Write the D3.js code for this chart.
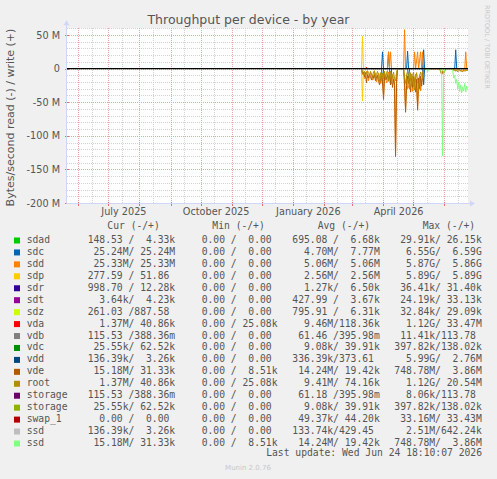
<!DOCTYPE html>
<html>
<head>
<meta charset="utf-8">
<script src="https://cdn.jsdelivr.net/npm/d3@7"></script>
<style>
  body { margin: 0; background: #F0F0F0; }
  svg { display: block; font-family: "DejaVu Sans", sans-serif; }
  .mono { font-family: "DejaVu Sans Mono", monospace; white-space: pre; }
</style>
</head>
<body>
<svg id="chart" width="497" height="479"></svg>
<script>
// legend
const names = ["sdad", "sdc", "sdd", "sdp", "sdr", "sdt", "sdz", "vda", "vdb", "vdc",
  "vdd", "vde", "root", "storage", "storage", "swap_1", "ssd", "ssd"];
const colors = ["#00CC00", "#0066B3", "#FF8000", "#FFCC00", "#330099", "#990099", "#CCFF00",
  "#FF0000", "#808080", "#008F00", "#00487D", "#B35A00", "#B38F00", "#6B006B", "#8FB300",
  "#B30000", "#BEBEBE", "#80FF80"];
const curText = ["148.53 /  4.33k", " 25.24M/ 25.24M", " 25.33M/ 25.33M", "277.59 / 51.86 ",
  "998.70 / 12.28k", "  3.64k/  4.23k", "261.03 /887.58 ", "  1.37M/ 40.86k", "115.53 /388.36m",
  " 25.55k/ 62.52k", "136.39k/  3.26k", " 15.18M/ 31.33k", "  1.37M/ 40.86k", "115.53 /388.36m",
  " 25.55k/ 62.52k", "  0.00 /  0.00 ", "136.39k/  3.26k", " 15.18M/ 31.33k"];
const minText = ["  0.00 /  0.00 ", "  0.00 /  0.00 ", "  0.00 /  0.00 ", "  0.00 /  0.00 ",
  "  0.00 /  0.00 ", "  0.00 /  0.00 ", "  0.00 /  0.00 ", "  0.00 / 25.08k", "  0.00 /  0.00 ",
  "  0.00 /  0.00 ", "  0.00 /  0.00 ", "  0.00 /  8.51k", "  0.00 / 25.08k", "  0.00 /  0.00 ",
  "  0.00 /  0.00 ", "  0.00 /  0.00 ", "  0.00 /  0.00 ", "  0.00 /  8.51k"];
const avgText = ["695.08 /  6.68k", "  4.70M/  7.77M", "  5.06M/  5.06M", "  2.56M/  2.56M",
  "  1.27k/  6.50k", "427.99 /  3.67k", "795.91 /  6.31k", "  9.46M/118.36k", " 61.46 /395.98m",
  "  9.08k/ 39.91k", "336.39k/373.61 ", " 14.24M/ 19.42k", "  9.41M/ 74.16k", " 61.18 /395.98m",
  "  9.08k/ 39.91k", " 49.37k/ 44.20k", "133.74k/429.45 ", " 14.24M/ 19.42k"];
const maxText = [" 29.91k/ 26.15k", "  6.55G/  6.59G", "  5.87G/  5.86G", "  5.89G/  5.89G",
  " 36.41k/ 31.40k", " 24.19k/ 33.13k", " 32.84k/ 29.09k", "  1.12G/ 33.47M", " 11.41k/113.78 ",
  "397.82k/138.02k", "  5.99G/  2.76M", "748.78M/  3.86M", "  1.12G/ 20.54M", "  8.06k/113.78 ",
  "397.82k/138.02k", " 33.16M/ 33.43M", "  2.51M/642.24k", "748.78M/  3.86M"];
const colHeads = ["Cur (-/+)", "Min (-/+)", "Avg (-/+)", "Max (-/+)"];

// axis labels
const yTicks = [50, 0, -50, -100, -150, -200];
const xLabelDays = ["2025-07-16", "2025-10-16", "2026-01-16", "2026-04-16"];
const xLabels = ["July 2025", "October 2025", "January 2026", "April 2026"];

// traces, MB/s per day (read is drawn negative)
const sdcWrite = [["03-10", 0], ["03-30", 0], ["03-31", 25], ["04-01", 0], ["04-05", 0], ["04-06", 25],
  ["04-07", 0], ["04-24", 0], ["04-25", 26], ["04-26", 0], ["05-10", 0], ["05-11", 28], ["05-12", 0],
  ["06-11", 0], ["06-12", 28], ["06-13", 0], ["06-24", 0]];
const sdcRead = [["03-10", 0], ["03-30", 0], ["03-31", 24], ["04-01", 0], ["04-07", 0], ["04-08", 24],
  ["04-09", 0], ["04-25", 0], ["04-26", 15], ["04-27", 0], ["05-10", 0], ["05-11", 24], ["05-12", 0],
  ["06-24", 0]];
const sddWrite = [["03-10", 0], ["04-05", 0], ["04-06", 25], ["04-07", 0], ["04-08", 25], ["04-09", 0],
  ["04-21", 0], ["04-22", 58], ["04-23", 0], ["05-01", 0], ["05-02", 25], ["05-03", 0], ["05-05", 25],
  ["05-06", 0], ["05-08", 25], ["05-09", 0], ["05-10", 25], ["05-11", 0], ["06-21", 0], ["06-22", 25],
  ["06-23", 0], ["06-24", 0]];
const sddRead = [["03-10", 0], ["03-11", 9], ["03-12", 6], ["03-13", 15], ["03-14", 14], ["03-15", 4],
  ["03-16", 5], ["03-17", 18], ["03-18", 12], ["03-19", 6], ["03-20", 9], ["03-21", 17], ["03-22", 16],
  ["03-23", 5], ["03-24", 8], ["03-25", 20], ["03-26", 13], ["03-27", 7], ["03-28", 10], ["03-29", 22],
  ["03-30", 15], ["03-31", 9], ["04-01", 40], ["04-02", 6], ["04-03", 12], ["04-04", 21], ["04-05", 18],
  ["04-06", 5], ["04-07", 7], ["04-08", 16], ["04-09", 20], ["04-10", 9], ["04-11", 14], ["04-12", 20],
  ["04-13", 125], ["04-14", 12], ["04-15", 0], ["04-21", 0], ["04-23", 60], ["04-24", 12], ["04-25", 30],
  ["04-26", 28], ["04-27", 10], ["04-28", 18], ["04-29", 8], ["04-30", 34], ["05-01", 24], ["05-02", 16],
  ["05-03", 8], ["05-04", 30], ["05-05", 55], ["05-06", 20], ["05-07", 9], ["05-08", 33], ["05-09", 18],
  ["05-10", 12], ["05-11", 0], ["06-09", 0], ["06-12", 3], ["06-15", 1], ["06-18", 4], ["06-21", 2],
  ["06-24", 3]];
const sdpWrite = [["03-10", 0], ["03-11", 48], ["03-12", 0]];
const sdpRead = [["03-10", 0], ["03-11", 48], ["03-12", 0]];
const vdaWrite = [["03-14", 0], ["03-15", 2], ["03-16", 0]];
const vdeRead = [["03-10", 0], ["03-11", 8], ["03-12", 5], ["03-13", 12], ["03-14", 6], ["03-15", 21],
  ["03-16", 9], ["03-17", 14], ["03-18", 8], ["03-19", 12], ["03-20", 17], ["03-21", 10], ["03-22", 14],
  ["03-23", 9], ["03-24", 18], ["03-25", 12], ["03-26", 10], ["03-27", 19], ["03-28", 24], ["03-29", 13],
  ["03-30", 11], ["03-31", 20], ["04-01", 46], ["04-02", 12], ["04-03", 10], ["04-04", 16], ["04-05", 9],
  ["04-06", 15], ["04-07", 11], ["04-08", 24], ["04-09", 13], ["04-10", 28], ["04-11", 16], ["04-12", 25],
  ["04-13", 131], ["04-14", 22], ["04-15", 0], ["04-21", 0], ["04-22", 20], ["04-23", 65], ["04-24", 25],
  ["04-25", 11], ["04-26", 22], ["04-27", 15], ["04-28", 35], ["04-29", 14], ["04-30", 28], ["05-01", 12],
  ["05-02", 22], ["05-03", 35], ["05-04", 16], ["05-05", 62], ["05-06", 14], ["05-07", 30], ["05-08", 11],
  ["05-09", 26], ["05-10", 10], ["05-11", 0], ["05-27", 0], ["05-29", 9], ["05-30", 5], ["05-31", 7],
  ["06-01", 4], ["06-02", 0]];
const rootRead = [["03-10", 0], ["03-11", 5], ["03-12", 9], ["03-13", 4], ["03-14", 11], ["03-15", 7],
  ["03-16", 3], ["03-17", 6], ["03-18", 10], ["03-19", 4], ["03-20", 8], ["03-21", 12], ["03-22", 5],
  ["03-23", 3], ["03-24", 14], ["03-25", 9], ["03-26", 4], ["03-27", 12], ["03-28", 21], ["03-29", 6],
  ["03-30", 18], ["03-31", 7], ["04-01", 13], ["04-02", 4], ["04-03", 17], ["04-04", 6], ["04-05", 3],
  ["04-06", 19], ["04-07", 8], ["04-08", 4], ["04-09", 22], ["04-10", 11], ["04-11", 5], ["04-12", 15],
  ["04-13", 18], ["04-14", 6], ["04-15", 0], ["04-21", 0], ["04-22", 14], ["04-23", 22], ["04-24", 9],
  ["04-25", 4], ["04-26", 12], ["04-27", 30], ["04-28", 6], ["04-29", 26], ["04-30", 10], ["05-01", 5],
  ["05-02", 32], ["05-03", 14], ["05-04", 6], ["05-05", 18], ["05-06", 33], ["05-07", 12], ["05-08", 5],
  ["05-09", 9], ["05-10", 15], ["05-11", 0], ["05-27", 0], ["05-28", 4], ["05-29", 8], ["05-30", 3],
  ["05-31", 6], ["06-01", 2], ["06-02", 0], ["06-09", 0], ["06-10", 3], ["06-11", 2], ["06-12", 4],
  ["06-13", 2], ["06-14", 5], ["06-15", 3], ["06-16", 2], ["06-17", 4], ["06-18", 3], ["06-19", 5],
  ["06-20", 2], ["06-21", 4], ["06-22", 3], ["06-23", 2], ["06-24", 3]];
const ssdRead = [["05-14", 0], ["05-15", 5], ["05-16", 0], ["05-28", 0], ["05-29", 10], ["05-30", 130],
  ["05-31", 8], ["06-01", 0], ["06-08", 0], ["06-09", 3], ["06-10", 14], ["06-11", 10], ["06-12", 22],
  ["06-13", 16], ["06-14", 30], ["06-15", 20], ["06-16", 34], ["06-17", 24], ["06-18", 36], ["06-19", 27],
  ["06-20", 33], ["06-21", 22], ["06-22", 35], ["06-23", 26], ["06-24", 30]];

// drawn in legend order
const traces = [
  { s: 1, sign: -1, data: sdcRead }, { s: 1, sign: 1, data: sdcWrite },
  { s: 2, sign: -1, data: sddRead }, { s: 2, sign: 1, data: sddWrite },
  { s: 3, sign: -1, data: sdpRead }, { s: 3, sign: 1, data: sdpWrite },
  { s: 7, sign: 1, data: vdaWrite },
  { s: 11, sign: -1, data: vdeRead },
  { s: 12, sign: -1, data: rootRead },
  { s: 17, sign: -1, data: ssdRead }
];

const svg = d3.select("#chart");
const pLeft = 67, pRight = 468, pTop = 28.3, pBottom = 203;
const textCol = "#555";

const end = new Date(2026, 5, 24, 18, 10, 7);
const start = d3.timeDay.offset(end, -400);
const parseDay = s => new Date(2026, +s.slice(0, 2) - 1, +s.slice(3, 5), 12);

const x = d3.scaleTime().domain([start, end]).range([pLeft, pRight]);
const y = d3.scaleLinear().domain([-200e6, 60e6]).range([pBottom, pTop]);

// canvas
svg.append("rect").attr("x", pLeft).attr("y", pTop)
  .attr("width", pRight - pLeft).attr("height", pBottom - pTop).attr("fill", "#fff");

// grid
const grid = svg.append("g").attr("shape-rendering", "crispEdges")
  .attr("stroke-dasharray", "1,1");
const months = d3.timeMonth.range(start, end);
const minorX = d3.timeMonth.range(d3.timeMonth.offset(start, -1), end)
  .map(d => d3.timeHour.offset(d, 13 * 24 + 12))
  .filter(d => d > start && d < end);
const minorY = d3.range(-200, 61, 10).filter(v => v % 50 !== 0);
const majorY = d3.range(-150, 51, 50);
const minorCol = "#d2d2d2", majorCol = "#eaa4a4";

grid.selectAll(".mx").data(minorX).join("line")
  .attr("x1", d => Math.round(x(d)) + 0.5).attr("x2", d => Math.round(x(d)) + 0.5)
  .attr("y1", pTop).attr("y2", pBottom).attr("stroke", minorCol);
grid.selectAll(".my").data(minorY).join("line")
  .attr("x1", pLeft).attr("x2", pRight)
  .attr("y1", d => Math.round(y(d * 1e6)) + 0.5).attr("y2", d => Math.round(y(d * 1e6)) + 0.5)
  .attr("stroke", minorCol);
grid.selectAll(".Mx").data(months).join("line")
  .attr("x1", d => Math.round(x(d)) + 0.5).attr("x2", d => Math.round(x(d)) + 0.5)
  .attr("y1", pTop).attr("y2", pBottom).attr("stroke", majorCol);
grid.selectAll(".My").data(majorY).join("line")
  .attr("x1", pLeft).attr("x2", pRight)
  .attr("y1", d => Math.round(y(d * 1e6)) + 0.5).attr("y2", d => Math.round(y(d * 1e6)) + 0.5)
  .attr("stroke", majorCol);

// small ticks on the axes
const ticks = svg.append("g").attr("shape-rendering", "crispEdges");
ticks.selectAll(".ty").data(majorY.concat([-200])).join("line")
  .attr("x1", pLeft - 2).attr("x2", pLeft + 2)
  .attr("y1", d => Math.round(y(d * 1e6)) + 0.5).attr("y2", d => Math.round(y(d * 1e6)) + 0.5)
  .attr("stroke", "#e07070");
ticks.selectAll(".tx").data(months).join("line")
  .attr("x1", d => Math.round(x(d)) + 0.5).attr("x2", d => Math.round(x(d)) + 0.5)
  .attr("y1", pBottom - 1).attr("y2", pBottom + 3).attr("stroke", "#e07070");

// data lines
svg.append("clipPath").attr("id", "plot").append("rect")
  .attr("x", pLeft).attr("y", pTop).attr("width", pRight - pLeft).attr("height", pBottom - pTop);
const plot = svg.append("g").attr("clip-path", "url(#plot)");
traces.forEach(t => {
  const line = d3.line()
    .x(d => x(parseDay(d[0])))
    .y(d => y(t.sign * d[1] * 1e6));
  plot.append("path").datum(t.data)
    .attr("d", line)
    .attr("fill", "none")
    .attr("stroke", colors[t.s])
    .attr("stroke-width", 1);
});

// zero line
plot.append("line").attr("x1", pLeft).attr("x2", pRight)
  .attr("y1", y(0)).attr("y2", y(0))
  .attr("stroke", "#000").attr("stroke-width", 1.2);

// axes
const axisCol = "#CFD6F8";
svg.append("line").attr("x1", pLeft - 0.5).attr("x2", pLeft - 0.5)
  .attr("y1", pBottom + 0.5).attr("y2", pTop - 3).attr("stroke", axisCol);
svg.append("line").attr("x1", pLeft - 0.5).attr("x2", pRight + 3)
  .attr("y1", pBottom + 0.5).attr("y2", pBottom + 0.5).attr("stroke", axisCol);
svg.append("path").attr("d", `M${pLeft - 3.5},${pTop - 3} L${pLeft - 0.5},${pTop - 8} L${pLeft + 2.5},${pTop - 3} Z`)
  .attr("fill", axisCol);
svg.append("path").attr("d", `M${pRight + 2},${pBottom - 2.5} L${pRight + 7},${pBottom + 0.5} L${pRight + 2},${pBottom + 3.5} Z`)
  .attr("fill", axisCol);

const yAxis = svg.append("g").attr("transform", `translate(${pLeft},0)`)
  .call(d3.axisLeft(y).tickValues(yTicks.map(v => v * 1e6))
    .tickFormat(d => d === 0 ? "0" : (d / 1e6) + " M").tickSize(0).tickPadding(7));
yAxis.select(".domain").remove();
yAxis.selectAll("text").attr("font-size", "9.7px").attr("fill", textCol)
  .attr("font-family", "DejaVu Sans, sans-serif");

const xAxis = svg.append("g").attr("transform", `translate(0,${pBottom})`)
  .call(d3.axisBottom(x).tickValues(xLabelDays.map(s => new Date(s + "T00:00:00")))
    .tickFormat((d, i) => xLabels[i]).tickSize(0).tickPadding(5));
xAxis.select(".domain").remove();
xAxis.selectAll("text").attr("font-size", "9.7px").attr("fill", textCol)
  .attr("font-family", "DejaVu Sans, sans-serif");

// title and side texts
svg.append("text").attr("x", 248.5).attr("y", 23.5).attr("text-anchor", "middle")
  .attr("font-size", "12.5px").attr("fill", textCol).text("Throughput per device - by year");
svg.append("text").attr("transform", "translate(14,117.5) rotate(-90)").attr("text-anchor", "middle")
  .attr("font-size", "11px").attr("fill", textCol).text("Bytes/second read (-) / write (+)");
svg.append("text").attr("transform", "translate(485,5) rotate(90)")
  .attr("font-size", "6.5px").attr("fill", "#c8c8c8").text("RRDTOOL / TOBI OETIKER");

// legend
const legend = svg.append("g");
const headX = [107.3, 212.3, 317.7, 422.7];
const colX = [87.7, 190, 292.3, 394.3];
legend.selectAll(".head").data(colHeads).join("text")
  .attr("class", "mono").attr("x", (d, i) => headX[i]).attr("y", 229)
  .attr("font-size", "9.7px").attr("fill", textCol).text(d => d);

const rowY = i => 243 + i * 11.94;
names.forEach((n, i) => {
  legend.append("rect").attr("x", 14).attr("y", rowY(i) - 5.5).attr("width", 6).attr("height", 6)
    .attr("fill", colors[i]);
  legend.append("text").attr("class", "mono").attr("x", 26.7).attr("y", rowY(i))
    .attr("font-size", "9.7px").attr("fill", textCol).text(n);
  [curText[i], minText[i], avgText[i], maxText[i]].forEach((t, j) => {
    legend.append("text").attr("class", "mono").attr("x", colX[j]).attr("y", rowY(i))
      .attr("font-size", "9.7px").attr("fill", textCol).text(t);
  });
});

svg.append("text").attr("class", "mono").attr("x", 482).attr("y", 456).attr("text-anchor", "end")
  .attr("font-size", "9.7px").attr("fill", textCol).text("Last update: Wed Jun 24 18:10:07 2026");
svg.append("text").attr("x", 248).attr("y", 470).attr("text-anchor", "middle")
  .attr("font-size", "7px").attr("fill", "#c8c8c8").text("Munin 2.0.76");
</script>
</body>
</html>
